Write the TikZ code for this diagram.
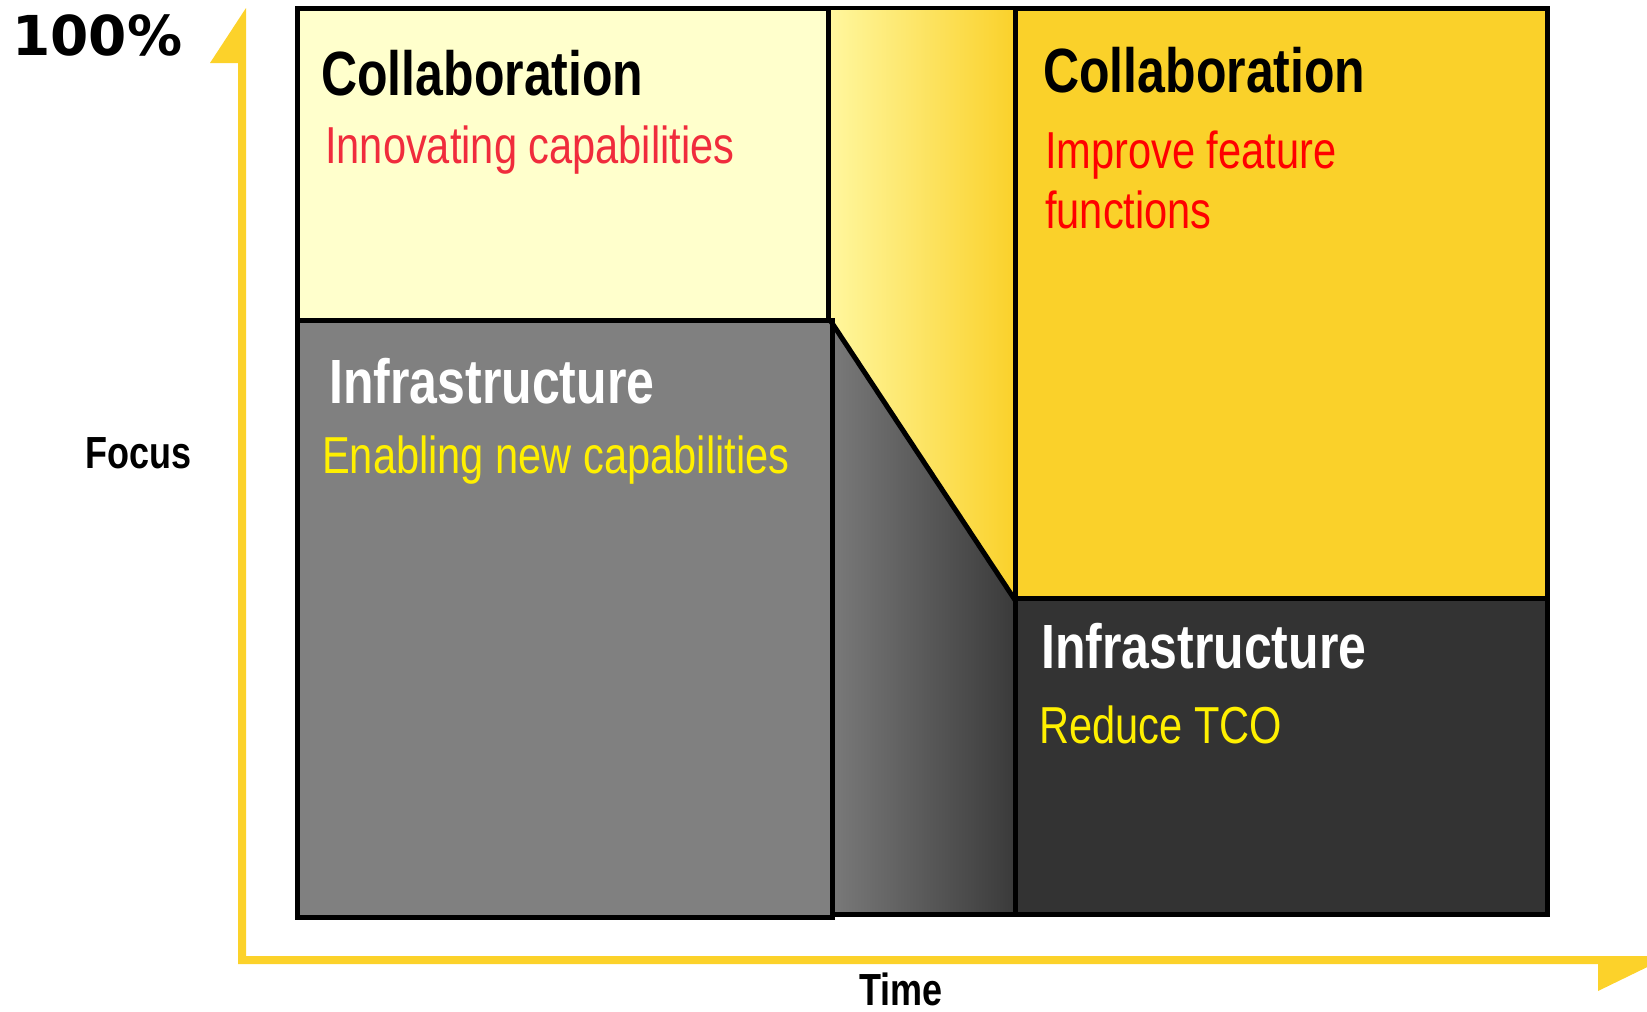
\documentclass[tikz,border=0pt]{standalone}
\usepackage{fontspec}
\setmainfont{Liberation Sans}[FakeStretch=0.8]
\newfontfamily\wide{DejaVu Sans}
\definecolor{paleY}{HTML}{FFFFCC}
\definecolor{goldY}{HTML}{FAD12A}
\definecolor{axisY}{HTML}{FCD22A}
\definecolor{midgray}{HTML}{808080}
\definecolor{darkgray}{HTML}{333333}
\definecolor{gradY}{HTML}{FFF79E}
\definecolor{gradG}{HTML}{7A7A7A}
\definecolor{gradD}{HTML}{3A3A3A}
\definecolor{txtRed}{HTML}{F02C3C}
\definecolor{txtRed2}{HTML}{FF0000}
\definecolor{txtY}{HTML}{FFF000}
\tikzset{
  boxline/.style={draw=black, line width=5pt, line join=miter},
  head/.style={anchor=base west, inner sep=0pt, font=\fontsize{62.5}{62.5}\selectfont\bfseries},
  body/.style={anchor=base west, inner sep=0pt, font=\fontsize{52}{60}\selectfont, align=left},
  axislabel/.style={anchor=base west, inner sep=0pt, font=\fontsize{45}{45}\selectfont\bfseries},
}
\begin{document}
\begin{tikzpicture}[x=1pt,y=-1pt]
\useasboundingbox (0,0) rectangle (1647,1012);
\clip (0,0) rectangle (1647,1012);
% left boxes
\fill[paleY] (297,8.5) rectangle (828,320);
\fill[midgray] (297,320) rectangle (832,917);
% middle transition
\shade[left color=gradY, right color=goldY] (830,8.5) -- (1015,8.5) -- (1015,600) -- (830,320) -- cycle;
\shade[left color=gradG, right color=gradD] (830,320) -- (1015,600) -- (1015,914) -- (830,914) -- cycle;
\draw[boxline] (297,8.5) rectangle (828,320);
\draw[boxline] (297,320) rectangle (832,917);
\draw[black, line width=4.5pt] (828,8) -- (1015,8);
\draw[boxline] (830,320) -- (1015,600);
\draw[boxline] (832,914.5) -- (1032,914.5);
% right boxes
\fill[goldY] (1015,8.5) rectangle (1547,598);
\fill[darkgray] (1015,598) rectangle (1547,914);
\draw[boxline] (1015,8.5) rectangle (1547,598);
\draw[boxline] (1015,598) rectangle (1547,914);
% axes
\fill[axisY] (246,8) -- (246,956) -- (1670,956) -- (1598,991) -- (1598,964) -- (238,964) -- (238,63) -- (210,63) -- cycle;
% texts
\node[anchor=base west, inner sep=0pt, font=\wide\fontsize{55}{55}\selectfont\bfseries] (pct) at (12,55) {100\%};
\node[axislabel] (focus) at (85,468) {Focus};
\node[axislabel] (time) at (859,1005) {Time};
\node[head] (c1) at (321,95) {Collaboration};
\node[body, text=txtRed] (c1t) at (325,163) {Innovating capabilities};
\node[head, text=white] (i1) at (329,403) {Infrastructure};
\node[body, text=txtY] (i1t) at (322,473) {Enabling new capabilities};
\node[head] (c2) at (1043,92) {Collaboration};
\node[body, text=txtRed2] (c2t) at (1045,228) {Improve feature\\functions};
\node[head, text=white] (i2) at (1041,668) {Infrastructure};
\node[body, text=txtY] (i2t) at (1039,743) {Reduce TCO};
\end{tikzpicture}
\end{document}
